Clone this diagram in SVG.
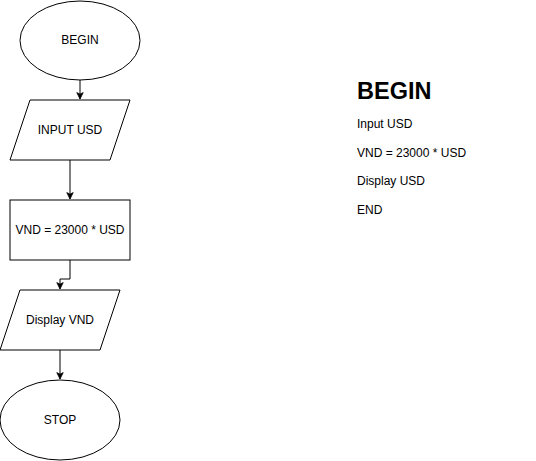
<svg xmlns="http://www.w3.org/2000/svg" width="536" height="461" viewBox="0 0 536 461">
<defs>
<style>
.s{fill:#fff;stroke:#000;stroke-width:1}
.t{font-family:"Liberation Sans",Arial,sans-serif;font-size:12px;fill:#000;text-anchor:middle;dominant-baseline:central}
.c{fill:none;stroke:#000;stroke-width:1}
.r{font-family:"Liberation Sans",Arial,sans-serif;font-size:12px;fill:#000}
</style>
<marker id="a" viewBox="0 0 10 10" refX="9" refY="5" markerWidth="8" markerHeight="8" markerUnits="userSpaceOnUse" orient="auto"><path d="M1,1 L9,5 L1,9 L3,5 Z" fill="#000" stroke="#000"/></marker>
</defs>
<rect width="536" height="461" fill="#fff"/>
<g id="connectors">
<path class="c" d="M80,80 V99" marker-end="url(#a)"/>
<path class="c" d="M70,160 V199" marker-end="url(#a)"/>
<path class="c" d="M70,260 V279 H60 V289" marker-end="url(#a)"/>
<path class="c" d="M60,350 V379" marker-end="url(#a)"/>
</g>
<g id="begin"><ellipse class="s" cx="80" cy="40.5" rx="60" ry="39.5"/><text class="t" x="80" y="40">BEGIN</text></g>
<g id="input"><polygon class="s" points="30,100 130,100 110,160 10,160"/><text class="t" x="70" y="130">INPUT USD</text></g>
<g id="calc"><rect class="s" x="10" y="200" width="120" height="60"/><text class="t" x="70" y="230">VND = 23000 * USD</text></g>
<g id="display"><polygon class="s" points="20,290 120,290 100,350 0,350"/><text class="t" x="60" y="320">Display VND</text></g>
<g id="stop"><ellipse class="s" cx="60" cy="420" rx="60" ry="40"/><text class="t" x="60" y="420">STOP</text></g>
<g id="pseudocode">
<text x="357" y="99" style="font-family:'Liberation Sans',Arial,sans-serif;font-size:23.5px;font-weight:bold">BEGIN</text>
<text class="r" x="357" y="128">Input USD</text>
<text class="r" x="357" y="157">VND = 23000 * USD</text>
<text class="r" x="357" y="185">Display USD</text>
<text class="r" x="357" y="214">END</text>
</g>
</svg>
